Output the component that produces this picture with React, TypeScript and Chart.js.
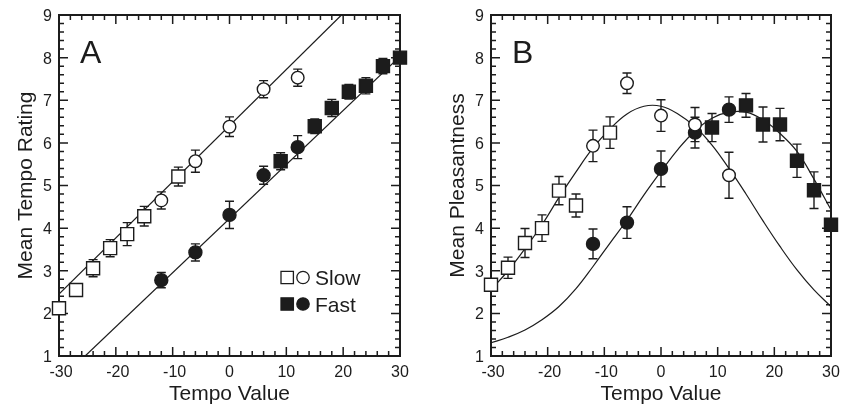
import React, { useEffect, useRef } from "react";
import { Chart, registerables } from "chart.js";

Chart.register(...registerables);

const FONT = "'Liberation Sans', Arial, Helvetica, sans-serif";
const INK = "#1c1c1c";

// ---- tick labels ----
const xTickLabels = [-30, -20, -10, 0, 10, 20, 30];
const yTickLabels = [1, 2, 3, 4, 5, 6, 7, 8, 9];

// ---- tempo values of the conditions ----
const slowSquareX = [-30, -27, -24, -21, -18, -15, -9];
const slowCircleX = [-12, -6, 0, 6, 12];
const fastCircleX = [-12, -6, 0, 6, 12];
const fastSquareX = [9, 15, 18, 21, 24, 27, 30];

// ---- Panel A: Mean Tempo Rating ----
const tempoSlowSquare = [2.12, 2.55, 3.06, 3.53, 3.86, 4.28, 5.21];
const tempoSlowSquareErr = [0.08, 0.1, 0.2, 0.2, 0.27, 0.23, 0.22];
const tempoSlowCircle = [4.65, 5.57, 6.38, 7.26, 7.53];
const tempoSlowCircleErr = [0.2, 0.26, 0.23, 0.2, 0.2];
const tempoFastCircle = [2.78, 3.43, 4.31, 5.24, 5.9];
const tempoFastCircleErr = [0.18, 0.2, 0.32, 0.21, 0.27];
const tempoFastSquare = [5.57, 6.39, 6.82, 7.2, 7.34, 7.8, 8.0];
const tempoFastSquareErr = [0.2, 0.17, 0.2, 0.17, 0.19, 0.18, 0.1];

const tempoFitSlowX = [-30, 19.7];
const tempoFitSlowY = [2.45, 9];
const tempoFitFastX = [-25.4, 30];
const tempoFitFastY = [1, 8.03];

// ---- Panel B: Mean Pleasantness ----
const pleasSlowSquare = [2.67, 3.07, 3.65, 4.0, 4.88, 4.53, 6.24];
const pleasSlowSquareErr = [0.08, 0.25, 0.34, 0.31, 0.33, 0.27, 0.37];
const pleasSlowCircle = [5.93, 7.4, 6.64, 6.43, 5.24];
const pleasSlowCircleErr = [0.37, 0.24, 0.37, 0.4, 0.54];
const pleasFastCircle = [3.63, 4.13, 5.39, 6.24, 6.78];
const pleasFastCircleErr = [0.35, 0.37, 0.42, 0.36, 0.3];
const pleasFastSquare = [6.36, 6.88, 6.43, 6.43, 5.58, 4.89, 4.08];
const pleasFastSquareErr = [0.33, 0.28, 0.41, 0.38, 0.39, 0.43, 0.08];

const curveX = [-30, -27, -24, -21, -18, -15, -12, -9, -6, -3, 0, 3, 6, 9, 12, 15, 18, 21, 24, 27, 30];
const pleasFitSlowY = [2.55, 3.0, 3.52, 4.08, 4.72, 5.32, 5.88, 6.33, 6.68, 6.86, 6.86, 6.68, 6.38, 5.95, 5.4, 4.8, 4.17, 3.57, 3.02, 2.55, 2.16];
const pleasFitFastY = [1.31, 1.44, 1.61, 1.85, 2.16, 2.58, 3.1, 3.65, 4.19, 4.78, 5.33, 5.85, 6.28, 6.58, 6.72, 6.72, 6.54, 6.22, 5.8, 5.15, 4.43];

const pts = (xs: number[], ys: number[]) => xs.map((x, i) => ({ x, y: ys[i] }));

function markerSet(xs: number[], ys: number[], errs: number[], style: string, filled: boolean) {
  const isRect = style === "rect";
  return {
    data: pts(xs, ys),
    errorBars: errs,
    pointStyle: style,
    pointRadius: isRect ? 9.2 : filled ? 6.5 : 6.3,
    pointBorderWidth: 1.4,
    pointBackgroundColor: filled ? INK : "#ffffff",
    pointBorderColor: INK,
    backgroundColor: filled ? INK : "#ffffff",
    borderColor: INK,
    showLine: false,
    clip: false,
    order: 0,
  };
}

function lineSet(xs: number[], ys: number[], tension: number) {
  return {
    data: pts(xs, ys),
    showLine: true,
    pointRadius: 0,
    borderColor: INK,
    borderWidth: 1.2,
    tension,
    fill: false,
    order: 10,
  };
}

function decorPlugin(letter: string, yTitle: string, legend: boolean) {
  return {
    id: "decor" + letter,
    beforeDatasetsDraw(chart: any) {
      const ctx = chart.ctx;
      const xs = chart.scales.x;
      const ys = chart.scales.y;
      const { left, right, top, bottom } = chart.chartArea;
      ctx.save();
      // error bars
      ctx.strokeStyle = INK;
      ctx.lineWidth = 1.4;
      chart.data.datasets.forEach((ds: any) => {
        if (!ds.errorBars) return;
        ds.data.forEach((p: any, i: number) => {
          const e = ds.errorBars[i];
          const px = xs.getPixelForValue(p.x);
          const y1 = ys.getPixelForValue(p.y + e);
          const y2 = ys.getPixelForValue(p.y - e);
          ctx.beginPath();
          ctx.moveTo(px, y1);
          ctx.lineTo(px, y2);
          ctx.moveTo(px - 4.5, y1);
          ctx.lineTo(px + 4.5, y1);
          ctx.moveTo(px - 4.5, y2);
          ctx.lineTo(px + 4.5, y2);
          ctx.stroke();
        });
      });
      // ticks (inside, on all four sides)
      ctx.lineWidth = 1.5;
      ctx.beginPath();
      for (let k = 0; k <= 30; k++) {
        const v = -30 + k * 2;
        const px = xs.getPixelForValue(v);
        const len = k % 5 === 0 ? 9 : 5;
        ctx.moveTo(px, bottom);
        ctx.lineTo(px, bottom - len);
        ctx.moveTo(px, top);
        ctx.lineTo(px, top + len);
      }
      for (let k = 0; k <= 40; k++) {
        const v = 1 + k * 0.2;
        const py = ys.getPixelForValue(v);
        const len = k % 5 === 0 ? 9 : 5;
        ctx.moveTo(left, py);
        ctx.lineTo(left + len, py);
        ctx.moveTo(right, py);
        ctx.lineTo(right - len, py);
      }
      ctx.stroke();
      // frame
      ctx.lineWidth = 2;
      ctx.strokeRect(left, top, right - left, bottom - top);
      ctx.restore();
    },
    afterDraw(chart: any) {
      const ctx = chart.ctx;
      const xs = chart.scales.x;
      const ys = chart.scales.y;
      const { left, right, top, bottom } = chart.chartArea;
      ctx.save();
      ctx.fillStyle = INK;
      // x tick labels
      ctx.font = `16px ${FONT}`;
      ctx.textAlign = "center";
      ctx.textBaseline = "alphabetic";
      xTickLabels.forEach((v) => {
        ctx.fillText(String(v), xs.getPixelForValue(v) + (v < 0 ? 2 : 0), bottom + 20.5);
      });
      // y tick labels
      ctx.textAlign = "right";
      ctx.textBaseline = "middle";
      yTickLabels.forEach((v) => {
        ctx.fillText(String(v), left - 7, ys.getPixelForValue(v) + 1.5);
      });
      // x title
      ctx.font = `21px ${FONT}`;
      ctx.textAlign = "center";
      ctx.textBaseline = "alphabetic";
      ctx.fillText("Tempo Value", (left + right) / 2, bottom + 44);
      // y title
      ctx.save();
      ctx.translate(left - 27, (top + bottom) / 2);
      ctx.rotate(-Math.PI / 2);
      ctx.fillText(yTitle, 0, 0);
      ctx.restore();
      // panel letter
      ctx.font = `32px ${FONT}`;
      ctx.textAlign = "left";
      ctx.fillText(letter, left + 21, top + 48);
      // legend
      if (legend) {
        const rows = [
          { label: "Slow", filled: false, cy: 277.5 },
          { label: "Fast", filled: true, cy: 304 },
        ];
        rows.forEach((r) => {
          ctx.lineWidth = 1.3;
          ctx.strokeStyle = INK;
          ctx.fillStyle = r.filled ? INK : "#ffffff";
          ctx.beginPath();
          ctx.rect(281, r.cy - 6.2, 12.4, 12.4);
          ctx.fill();
          ctx.stroke();
          ctx.beginPath();
          ctx.arc(303, r.cy, 6.2, 0, Math.PI * 2);
          ctx.fill();
          ctx.stroke();
          ctx.fillStyle = INK;
          ctx.font = `21px ${FONT}`;
          ctx.textAlign = "left";
          ctx.textBaseline = "alphabetic";
          ctx.fillText(r.label, 315, r.cy + 7.5);
        });
      }
      ctx.restore();
    },
  };
}

function makeConfig(datasets: any[], padding: any, plugin: any) {
  return {
    type: "scatter" as const,
    data: { datasets },
    options: {
      responsive: false,
      animation: false as const,
      events: [] as any[],
      devicePixelRatio: 1,
      layout: { padding },
      plugins: { legend: { display: false }, tooltip: { enabled: false } },
      scales: {
        x: { type: "linear" as const, min: -30, max: 30, display: false },
        y: { type: "linear" as const, min: 1, max: 9, display: false },
      },
    },
    plugins: [plugin],
  };
}

function Panel(props: { which: "A" | "B"; left: number; width: number }) {
  const ref = useRef<HTMLCanvasElement>(null);
  useEffect(() => {
    if (!ref.current) return;
    let datasets: any[];
    let padding: any;
    let plugin: any;
    if (props.which === "A") {
      datasets = [
        markerSet(slowSquareX, tempoSlowSquare, tempoSlowSquareErr, "rect", false),
        markerSet(slowCircleX, tempoSlowCircle, tempoSlowCircleErr, "circle", false),
        markerSet(fastCircleX, tempoFastCircle, tempoFastCircleErr, "circle", true),
        markerSet(fastSquareX, tempoFastSquare, tempoFastSquareErr, "rect", true),
        lineSet(tempoFitSlowX, tempoFitSlowY, 0),
        lineSet(tempoFitFastX, tempoFitFastY, 0),
      ];
      padding = { left: 59, right: 26, top: 15, bottom: 54 };
      plugin = decorPlugin("A", "Mean Tempo Rating", true);
    } else {
      datasets = [
        markerSet(slowSquareX, pleasSlowSquare, pleasSlowSquareErr, "rect", false),
        markerSet(slowCircleX, pleasSlowCircle, pleasSlowCircleErr, "circle", false),
        markerSet(fastCircleX, pleasFastCircle, pleasFastCircleErr, "circle", true),
        markerSet(fastSquareX, pleasFastSquare, pleasFastSquareErr, "rect", true),
        lineSet(curveX, pleasFitSlowY, 0.4),
        lineSet(curveX, pleasFitFastY, 0.4),
      ];
      padding = { left: 65, right: 22, top: 15, bottom: 54 };
      plugin = decorPlugin("B", "Mean Pleasantness", false);
    }
    const chart = new Chart(ref.current, makeConfig(datasets, padding, plugin) as any);
    return () => chart.destroy();
  }, [props.which]);
  return (
    <canvas
      ref={ref}
      width={props.width}
      height={410}
      style={{ position: "absolute", left: props.left, top: 0, width: props.width, height: 410 }}
    />
  );
}

export default function App() {
  return (
    <div style={{ position: "absolute", left: 0, top: 0, width: 853, height: 410, background: "#ffffff" }}>
      <Panel which="A" left={0} width={426} />
      <Panel which="B" left={426} width={427} />
    </div>
  );
}
